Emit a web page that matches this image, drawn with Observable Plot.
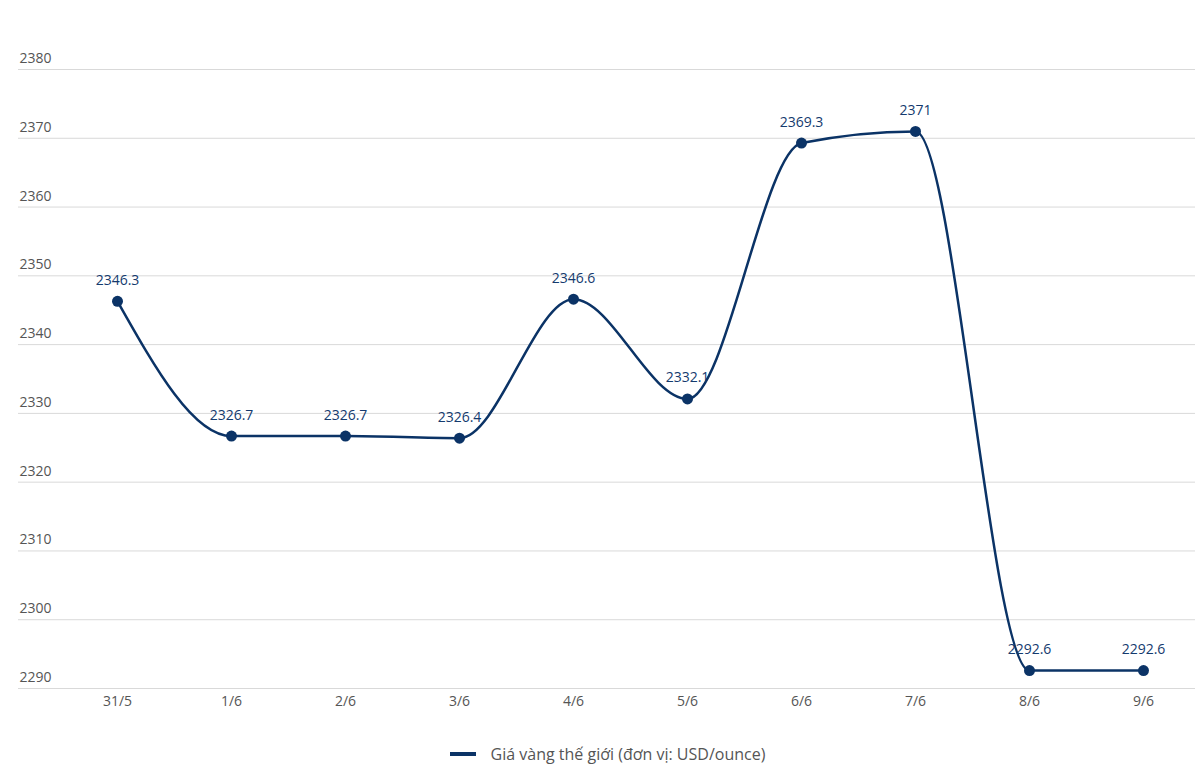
<!DOCTYPE html>
<html><head><meta charset="utf-8">
<script src="https://cdn.jsdelivr.net/npm/d3@7"></script>
<script src="https://cdn.jsdelivr.net/npm/@observablehq/plot@0.6"></script>
<style>
body{margin:0;background:#fff;font-family:"Open Sans",sans-serif;}
#legend{display:flex;justify-content:center;align-items:center;margin-top:13px;margin-left:20px;font-size:16px;color:#555;}
#legend .sw{width:26px;height:4px;background:#0b3366;margin-right:15px;}
</style></head>
<body><div id="chart"></div>
<div id="legend"><span class="sw"></span><span>Giá vàng thế giới (đơn vị: USD/ounce)</span></div>
<script>
const dates = ["31/5","1/6","2/6","3/6","4/6","5/6","6/6","7/6","8/6","9/6"];
const prices = [2346.3,2326.7,2326.7,2326.4,2346.6,2332.1,2369.3,2371,2292.6,2292.6];
const yTicks = [2290,2300,2310,2320,2330,2340,2350,2360,2370,2380];
const seriesName = "Giá vàng thế giới (đơn vị: USD/ounce)";
const data = dates.map((d,i)=>({date:d, price:prices[i]}));
const color = "#0b3366";
const chart = Plot.plot({
  width:1195, height:730,
  marginTop:69, marginBottom:42, marginLeft:18, marginRight:0,
  style:{fontFamily:"Open Sans, sans-serif", background:"#fff"},
  x:{type:"point", domain:dates, range:[117,1143], padding:0, label:null},
  y:{domain:[2290,2380], label:null, axis:null},
  marks:[
    Plot.ruleY(yTicks,{stroke:"#d9d9d9", strokeWidth:1}),
    Plot.text(yTicks,{y:d=>d, text:d=>String(d), frameAnchor:"left", textAnchor:"start", dx:1, dy:-11, fill:"#555", fontSize:14}),
    Plot.axisX({tickSize:0, tickPadding:8, fontSize:14, color:"#555", label:null}),
    Plot.line(data,{x:"date", y:"price", stroke:color, strokeWidth:2.5, curve:"monotone-x"}),
    Plot.dot(data,{x:"date", y:"price", r:5.5, fill:color}),
    Plot.text(data,{x:"date", y:"price", text:d=>String(d.price), dy:-21, fill:"#143a6e", fontSize:14})
  ]
});
document.getElementById("chart").appendChild(chart);
</script></body></html>
